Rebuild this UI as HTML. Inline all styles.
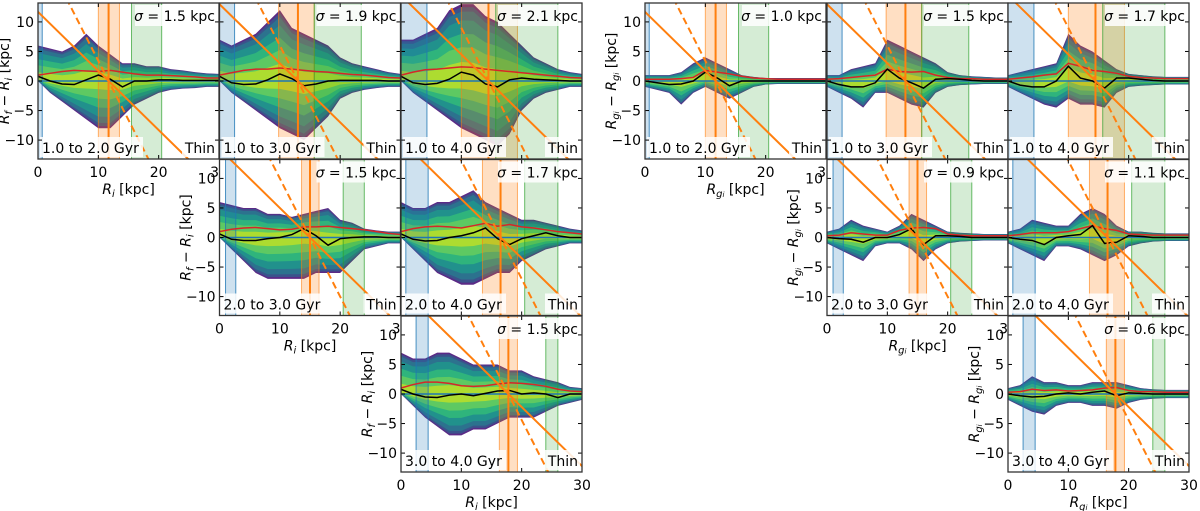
<!DOCTYPE html>
<html><head><meta charset="utf-8"><style>
body{margin:0;background:#fff;}
svg{display:block;font-family:"DejaVu Sans","Liberation Sans",sans-serif;}
</style></head><body>
<svg id="fig" width="1200" height="511" viewBox="0 0 1200 511" xmlns="http://www.w3.org/2000/svg">
</svg>
<script>
// x grid of envelope samples (kpc)
const gridX=[0,2,4,6,8,10,12,14,16,18,20,22,24,26,28,30];
const xTicks=[0,10,20,30];
const yTicks=[10,5,0,-5,-10];
const ageLabels=["1.0 to 2.0 Gyr","1.0 to 3.0 Gyr","1.0 to 4.0 Gyr","2.0 to 3.0 Gyr","2.0 to 4.0 Gyr","3.0 to 4.0 Gyr"];
const sigmaLeft=[1.5,1.9,2.1,1.5,1.7,1.5];
const sigmaRight=[1.0,1.5,1.7,0.9,1.1,0.6];
// bands: [blueLo, blueHi, orangeLo, orangeHi, orangeLine, greenLo, greenHi]
const bandsP=[[0,0.7,10,13.5,11.7,15.5,20.5],[0,2.5,9.8,15.7,13,15.7,23.5],[0,4.3,10,19.3,14.5,15.7,26],[1,2.7,13.6,16.5,15,20.5,24],[0.8,4.5,13.5,19.3,16.5,20.5,26],[2.5,4.5,16.3,19.3,17.8,24,26]];
// left envelopes
const upL=[[6,5.5,5,6,8,6,4.5,3,3,2.5,2.5,2,1.8,1.5,1.3,1.2],[7,6,7,8,10,12,9,8,7,6,4,3,2.5,2,1.5,1.2],[7,7,8,9,12,13,13,11,10,8,6,4,3,2,1.5,1.2],[6,5.5,5,5,4,4,3.5,4,4.5,5,3,2.5,1.5,1.2,1,1],[6,5,5,6,6,7,8,6,5,4,3,3,2.5,2,1.5,1.2],[7,6,6,7,7,6,5,5,5,4,4,3,2.5,2,1.2,1]];
const loL=[[0,-2,-3.5,-5,-6.5,-8,-8,-6,-4,-3,-2,-1.5,-1.3,-1.2,-1,-1],[0,-2,-3.5,-5,-6.5,-8,-9,-10,-8,-6,-3,-2,-1.5,-1.2,-1,-1],[0,-2,-3.5,-5,-6.5,-8,-9,-10,-11,-9,-5,-3,-2,-1.5,-1,-1],[0,-2,-4,-6,-7,-7,-7,-7,-6,-6,-6,-4,-2,-1.5,-1,-1],[0,-2,-4,-6,-7,-8,-8,-7,-6,-6,-4,-3,-2,-1.5,-1,-1],[0,-2,-4,-5.5,-7,-7,-6,-6,-5,-4,-4,-4,-3,-2,-1.5,-1]];
const redL=[[1,1.3,1.6,1.8,1.7,1.6,1.8,1.5,1.2,1,1,0.9,0.8,0.7,0.5,0.5],[1,1.4,1.8,2,2,2.2,2,1.8,1.6,1.5,1.3,1.1,1,0.8,0.6,0.5],[1,1.5,1.9,2,2.2,2.4,2.3,2,1.8,1.6,1.4,1.2,1,0.8,0.6,0.5],[1,1.4,1.6,1.7,1.5,1.3,1.4,1.8,1.8,1.9,1.7,1.5,1.3,1,0.7,0.5],[1,1.5,1.8,1.9,1.8,1.6,2,2.4,1.9,2.2,1.8,1.6,1.3,1,0.8,0.6],[1,1.6,2,2,1.8,1.4,1.3,1.4,1.7,1.9,1.8,1.6,1.3,0.8,0.5,0.4]];
const medL=[[0.8,0,-0.5,-0.6,0.2,1,0.3,-1,0,0,0.2,0.2,0.1,0.1,0.1,0.1],[0.8,-0.3,-0.6,-0.5,0.2,1.2,0.4,-0.8,-0.5,0,0.1,0.1,0.1,0.1,0,0],[0.8,-0.3,-0.6,-0.4,0.3,1.5,1,-0.5,-1,0.2,0.5,0.3,0.2,0.1,0,0],[0.6,-0.3,-0.5,-0.5,-0.2,0,0.5,1.5,0.3,-1.3,-0.2,0,0.1,0.1,0,0],[0.6,-0.3,-0.6,-0.5,0,0.3,0.8,1.6,-0.2,-1.2,-0.2,0.3,0.8,0.3,0,0],[0.8,0,-0.5,-0.6,-0.2,0,-0.3,0.1,0.5,0.6,0,0.2,0,-0.6,0,0]];
// right envelopes
const upR=[[1,1,1,1.5,3,4,3,2,1,0.7,0.5,0.5,0.5,0.5,0.5,0.5],[1,1,2,2.5,3,7,6,5,4,3,1.5,1,0.8,0.7,0.6,0.6],[1,1.5,2,2.5,3,8,6,5,3.5,2,1.2,1,0.8,0.7,0.7,0.7],[1,1.5,3,2,1.5,1,2,4,3,2,1,0.8,0.7,0.6,0.6,0.6],[1,1.5,3,2.5,2,2,4,5,4,2,1,1,0.8,0.7,0.7,0.7],[1,1.5,3,2,2,1.5,1.5,2,2,2,1.5,1,0.8,0.7,0.7,0.7]];
const loR=[[-1,-1.5,-2,-4,-2,-1,-2,-3,-2,-1,-0.6,-0.5,-0.5,-0.5,-0.5,-0.5],[-1,-2,-3,-4.5,-2,-2,-3,-4,-4.5,-2,-1,-0.7,-0.6,-0.5,-0.5,-0.5],[-1,-2,-3,-4,-4.5,-3,-4,-4,-4.5,-2,-1,-0.8,-0.7,-0.6,-0.6,-0.6],[-1,-2,-3,-4,-1.5,-1,-1,-2,-4,-2,-1,-0.7,-0.6,-0.5,-0.5,-0.5],[-1,-2,-3,-4,-1.5,-1.5,-2,-3,-4,-3,-1.5,-1,-0.7,-0.6,-0.6,-0.6],[-1,-2,-3,-3.5,-2,-1.5,-1.5,-2,-2,-2.5,-1.5,-1,-0.8,-0.7,-0.7,-0.7]];
const redR=[[0.3,0.3,0.3,0.4,0.6,1.8,1.5,1.2,0.8,0.5,0.4,0.3,0.3,0.3,0.3,0.3],[0.3,0.4,0.6,0.8,1,2,1.6,1.5,1.6,1,0.6,0.4,0.4,0.3,0.3,0.3],[0.3,0.5,0.7,1,1.2,3,2.5,1.8,1.6,1.3,0.8,0.6,0.5,0.4,0.4,0.4],[0.3,0.4,0.8,0.6,0.4,0.4,1.2,1.6,1.7,1.5,0.6,0.4,0.3,0.3,0.3,0.3],[0.3,0.5,0.8,0.8,0.8,1,1.5,2,1.5,1.2,0.6,0.5,0.4,0.4,0.4,0.4],[0.3,0.4,0.8,0.6,0.7,0.5,0.6,0.7,1,1.1,0.6,0.4,0.4,0.3,0.3,0.3]];
const medR=[[0,-0.3,-0.6,-0.5,0,1.5,0.5,-0.8,0,0,0,0,0,0,0,0],[0,-0.6,-1,-1,-0.3,2,0.5,-0.3,-1.2,0.3,0.4,0.3,0.1,0,0,0],[0,-0.7,-1,-1,0,2.5,0.5,0,-1.2,0.5,0.5,0.3,0.1,0,0,0],[0,-0.2,-0.3,-0.8,0,0,0.5,1.5,-1.2,0.3,0.3,0.2,0,0,0,0],[0,-0.3,-0.5,-1.2,0,0.3,0.5,2,-1,-0.8,0.3,0.2,0,0,0,0],[0,-0.3,-0.5,-0.4,0,0.2,0,0.3,0.5,-0.3,0.2,0.1,0,0,0,0]];

const NS="http://www.w3.org/2000/svg";
const svg=document.getElementById('fig');
const PW=181, PH=156, YMAX=13.2;
const layers=[[1,'#5b2a86'],[0.96,'#3b528b'],[0.9,'#2c728e'],[0.78,'#21918c'],[0.6,'#2fb47c'],[0.42,'#5ec962'],[0.22,'#addc30']];
function mk(tag,attrs,parent){const e=document.createElementNS(NS,tag);for(const k in attrs)e.setAttribute(k,attrs[k]);(parent||svg).appendChild(e);return e;}

const colXL=[38,219.5,401], colXR=[645,827,1008], rowY=[3,159.5,316];
const layout=[[0,0],[1,0],[2,0],[1,1],[2,1],[2,2]];
const showAxes=[true,false,false,true,false,true];

function panel(grid,i){
  const left=grid==='L';
  const cx=(left?colXL:colXR)[layout[i][0]], cy=rowY[layout[i][1]];
  const sx=v=>cx+v*PW/30, sy=v=>cy+PH/2-v*(PH/2)/YMAX;
  const g=mk('g',{});
  
  
  const cid='clip'+grid+i;
  const cp=mk('clipPath',{id:cid},g);mk('rect',{x:cx,y:cy,width:PW,height:PH},cp);
  mk('rect',{x:cx,y:cy,width:PW,height:PH,fill:'#fff'},g);
  const inner=mk('g',{'clip-path':'url(#'+cid+')'},g);
  const b=bandsP[i];
  const up=(left?upL:upR)[i], lo=(left?loL:loR)[i];
  const med=(left?medL:medR)[i];
  layers.forEach(([f,col])=>{
    let d='M'+gridX.map((x,k)=>sx(x)+','+sy(med[k]*0.3+(up[k]-med[k]*0.3)*f)).join(' L');
    for(let k=gridX.length-1;k>=0;k--) d+=' L'+sx(gridX[k])+','+sy(med[k]*0.3+(lo[k]-med[k]*0.3)*f*(left?0.9+0.1*f:1));
    const p=mk('path',{d:d+'Z',fill:col},inner);
    
  });
  const band=(lo,hi,fill,stroke,nm)=>{const r=mk('rect',{x:sx(lo),y:cy,width:Math.max(1,sx(hi)-sx(lo)),height:PH,fill:fill},inner);
    
    mk('line',{x1:sx(lo),x2:sx(lo),y1:cy,y2:cy+PH,stroke:stroke,'stroke-width':1},inner);
    mk('line',{x1:sx(hi),x2:sx(hi),y1:cy,y2:cy+PH,stroke:stroke,'stroke-width':1},inner);};
  band(b[0],b[1],'rgba(31,119,180,0.22)','rgba(31,119,180,0.8)','blue-band');
  band(b[2],b[3],'rgba(255,127,14,0.25)','rgba(255,127,14,0.6)','orange-band');
  band(b[5],b[6],'rgba(44,160,44,0.2)','rgba(44,160,44,0.7)','green-band');
  const line=(arr,col,nm)=>{const p=mk('polyline',{points:gridX.map((x,k)=>sx(x)+','+sy(arr[k])).join(' '),fill:'none',stroke:col,'stroke-width':1.5},inner);
    };
  mk('line',{x1:cx,x2:cx+PW,y1:sy(0),y2:sy(0),stroke:'#1f77b4','stroke-width':1.5},inner);
  line((left?redL:redR)[i],'#d62728','red-dispersion-line');
  line(med,'#000','median-line');
  const rc=b[4];
  const s1=mk('line',{x1:sx(rc-14),y1:sy(14),x2:sx(rc+14),y2:sy(-14),stroke:'#ff7f0e','stroke-width':2},inner);
  
  const s2=mk('line',{x1:sx(rc-7),y1:sy(14),x2:sx(rc+7),y2:sy(-14),stroke:'#ff7f0e','stroke-width':2,'stroke-dasharray':'7,4'},inner);
  
  const v=mk('line',{x1:sx(rc),x2:sx(rc),y1:cy,y2:cy+PH,stroke:'#ff7f0e','stroke-width':2},inner);
  
  // text boxes
  const sig=(left?sigmaLeft:sigmaRight)[i].toFixed(1);
  mk('rect',{x:cx+PW-84,y:cy+2,width:82,height:21,fill:'rgba(255,255,255,0.85)'},g);
  const ts=mk('text',{x:cx+PW-4,y:cy+18,'text-anchor':'end','font-size':14},g);
  
  ts.innerHTML='<tspan font-style="italic">σ</tspan> =  '+sig+' kpc';
  mk('rect',{x:cx+2,y:cy+PH-22,width:103,height:20,fill:'rgba(255,255,255,0.85)'},g);
  const ta=mk('text',{x:cx+4,y:cy+PH-6,'font-size':14},g);ta.textContent=ageLabels[i];
  
  mk('rect',{x:cx+PW-37,y:cy+PH-22,width:35,height:20,fill:'rgba(255,255,255,0.85)'},g);
  const tt=mk('text',{x:cx+PW-4,y:cy+PH-6,'font-size':14,'text-anchor':'end'},g);tt.textContent='Thin';
  
  // ticks
  xTicks.forEach(t=>{mk('line',{x1:sx(t),x2:sx(t),y1:cy+PH,y2:cy+PH-4,stroke:'#000'},g);mk('line',{x1:sx(t),x2:sx(t),y1:cy,y2:cy+4,stroke:'#000'},g);});
  yTicks.forEach(t=>{mk('line',{x1:cx,x2:cx+4,y1:sy(t),y2:sy(t),stroke:'#000'},g);mk('line',{x1:cx+PW,x2:cx+PW-4,y1:sy(t),y2:sy(t),stroke:'#000'},g);});
  const fr=mk('rect',{x:cx,y:cy,width:PW,height:PH,fill:'none',stroke:'#333','stroke-width':1.3},g);
  
  if(showAxes[i]){
    xTicks.forEach(t=>{const tx=mk('text',{x:sx(t),y:cy+PH+18,'text-anchor':'middle','font-size':14},g);tx.textContent=String(t);
      });
    yTicks.forEach(t=>{const ty=mk('text',{x:cx-4,y:sy(t)+5,'text-anchor':'end','font-size':14},g);ty.textContent=t<0?'−'+(-t):String(t);
      });
    const xl=mk('text',{x:cx+PW/2,y:cy+PH+35,'text-anchor':'middle','font-size':14},g);
    
    xl.innerHTML=left?'<tspan font-style="italic">R</tspan><tspan font-size="10" dy="3" font-style="italic">i</tspan><tspan dy="-3"> [kpc]</tspan>'
      :'<tspan font-style="italic">R</tspan><tspan font-size="10" dy="3" font-style="italic">g<tspan font-size="7">i</tspan></tspan><tspan dy="-3"> [kpc]</tspan>';
    const yx=cx-29, yy=cy+PH/2;
    const yl=mk('text',{x:yx,y:yy,'text-anchor':'middle','font-size':14,transform:'rotate(-90 '+yx+' '+yy+')'},g);
    
    yl.innerHTML=left?'<tspan font-style="italic">R</tspan><tspan font-size="10" dy="3" font-style="italic">f</tspan><tspan dy="-3"> − </tspan><tspan font-style="italic">R</tspan><tspan font-size="10" dy="3" font-style="italic">i</tspan><tspan dy="-3"> [kpc]</tspan>'
      :'<tspan font-style="italic">R</tspan><tspan font-size="10" dy="3" font-style="italic">g<tspan font-size="7">i</tspan></tspan><tspan dy="-3"> − </tspan><tspan font-style="italic">R</tspan><tspan font-size="10" dy="3" font-style="italic">g<tspan font-size="7">i</tspan></tspan><tspan dy="-3"> [kpc]</tspan>';
  }
}
for(let i=0;i<6;i++){panel('L',i);panel('R',i);}
</script>
</body></html>
